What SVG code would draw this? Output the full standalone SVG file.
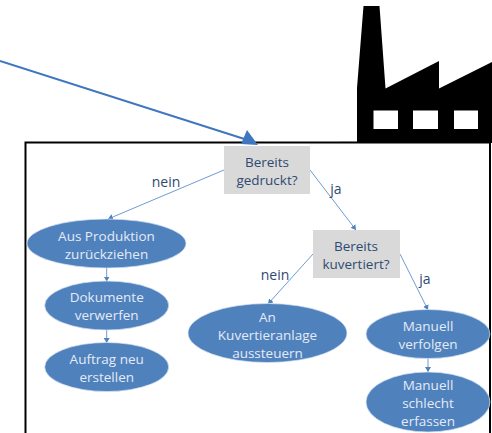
<svg xmlns="http://www.w3.org/2000/svg" width="492" height="433" viewBox="0 0 492 433">
<style>
text{font-family:"Open Sans","Noto Sans","Liberation Sans",sans-serif;font-size:13.500px;text-anchor:middle}
.e{fill:#4f81bd;stroke:#dbe5f3;stroke-width:.7}
.r{fill:#d9d9d9}
.l{fill:#e4ebf6}
.d{fill:#2f4a72}
.t{font-size:14px}
.c{fill:none;stroke:#6f9bd4;stroke-width:1;marker-end:url(#a)}
</style>
<defs>
<marker id="a" markerWidth="6" markerHeight="6" refX="5" refY="3" orient="auto" markerUnits="userSpaceOnUse"><path d="M0 0L5 3L0 6Z" fill="#4f81bd"/></marker>
</defs>
<rect width="492" height="433" fill="#fff"/>
<g id="factory">
<path d="M363.500 6H379.500L385.500 88.500L439 61V88.500L492 62V143H357V88Z" fill="#000"/>
<path d="M373.500 110.500H398V129H373.500ZM413 110.500H438V129H413ZM454 110.500H478V129H454Z" fill="#fff"/>
</g>
<g id="frame">
<rect x="25.500" y="142.500" width="464.500" height="295" fill="#fff" stroke="#000" stroke-width="2"/>
<path d="M340 141.500H357" stroke="#777" stroke-width="1"/>
</g>
<g id="connectors">
<path d="M0 61L246 139.500" fill="none" stroke="#3f77bf" stroke-width="2"/>
<path d="M258 145L241 144L247 130Z" fill="#3f77bf"/>
<path class="c" d="M224 170L108 219"/>
<path class="c" d="M310 170L356 230"/>
<path class="c" d="M313 254L268 304"/>
<path class="c" d="M400 254L428 310"/>
<path class="c" d="M106.700 268V281.500"/>
<path class="c" d="M106.700 330V343"/>
<path class="c" d="M428 358V372"/>
<text class="d t" x="166" y="187">nein</text>
<text class="d t" x="336" y="194">ja</text>
<text class="d t" x="275" y="280">nein</text>
<text class="d t" x="425" y="284">ja</text>
</g>
<g id="n1"><rect class="r" x="224" y="146" width="86" height="48"/><text class="d" x="267" y="167">Bereits</text><text class="d" x="267" y="185">gedruckt?</text></g>
<g id="n2"><rect class="r" x="313" y="230" width="87" height="48"/><text class="d" x="356" y="251">Bereits</text><text class="d" x="356" y="269">kuvertiert?</text></g>
<g id="n3"><ellipse class="e" cx="106.500" cy="243.500" rx="79.500" ry="24.500"/><text class="l" x="106.500" y="241">Aus Produktion</text><text class="l" x="106.500" y="259">zurückziehen</text></g>
<g id="n4"><ellipse class="e" cx="106.700" cy="305.500" rx="62" ry="24.500"/><text class="l" x="106.700" y="302">Dokumente</text><text class="l" x="106.700" y="320">verwerfen</text></g>
<g id="n5"><ellipse class="e" cx="106.700" cy="367" rx="62" ry="24.500"/><text class="l" x="106.700" y="364">Auftrag neu</text><text class="l" x="106.700" y="382">erstellen</text></g>
<g id="n6"><ellipse class="e" cx="267.500" cy="333" rx="79.500" ry="29.500"/><text class="l" x="267.500" y="322">An</text><text class="l" x="267.500" y="340">Kuvertieranlage</text><text class="l" x="267.500" y="358">aussteuern</text></g>
<g id="n7"><ellipse class="e" cx="428" cy="334" rx="62" ry="24.500"/><text class="l" x="428" y="331">Manuell</text><text class="l" x="428" y="349">verfolgen</text></g>
<g id="n8"><ellipse class="e" cx="428" cy="402" rx="62" ry="30"/><text class="l" x="428" y="390">Manuell</text><text class="l" x="428" y="408">schlecht</text><text class="l" x="428" y="426">erfassen</text></g>
</svg>
